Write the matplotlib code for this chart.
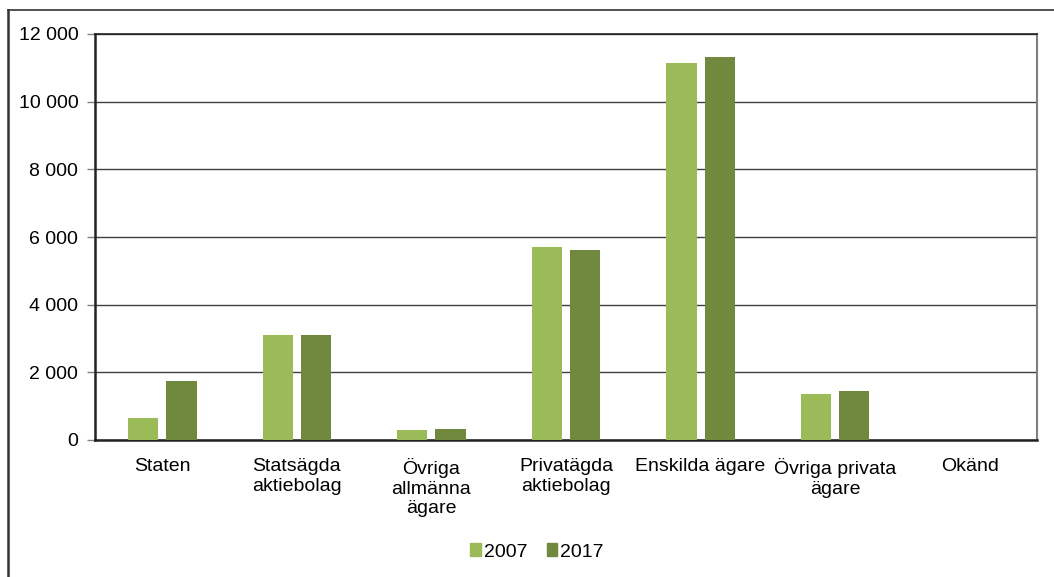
import matplotlib

matplotlib.use("Agg")
import matplotlib.pyplot as plt
import numpy as np
from matplotlib.lines import Line2D
from matplotlib.ticker import FuncFormatter

plt.rcParams["font.family"] = ["Liberation Sans", "DejaVu Sans"]

categories = [
    "Staten",
    "Statsägda\naktiebolag",
    "Övriga\nallmänna\nägare",
    "Privatägda\naktiebolag",
    "Enskilda ägare",
    "Övriga privata\nägare",
    "Okänd",
]
values_2007 = [650, 3110, 300, 5700, 11140, 1370, 0]
values_2017 = [1745, 3110, 325, 5610, 11320, 1445, 0]
series_labels = ["2007", "2017"]
colors = ["#9BBB59", "#71893F"]

fig = plt.figure(figsize=(10.54, 5.77), dpi=100)
ax = fig.add_axes([95 / 1054, 1 - 440 / 577, (1037 - 95) / 1054, (440 - 34) / 577])

x = np.arange(len(categories))
width = 0.225
offset = 0.142
ax.bar(x - offset, values_2007, width, color=colors[0], label=series_labels[0], zorder=3)
ax.bar(x + offset, values_2017, width, color=colors[1], label=series_labels[1], zorder=3)

ax.set_xlim(-0.5, len(categories) - 0.5)
ax.set_ylim(0, 12000)
ax.set_yticks(np.arange(0, 12001, 2000))
ax.yaxis.set_major_formatter(FuncFormatter(lambda v, _: f"{int(v):,}".replace(",", " ")))
ax.grid(axis="y", color="#404040", linewidth=1.0, zorder=0)
ax.set_axisbelow(True)

ax.set_xticks(x)
ax.set_xticklabels(categories, fontsize=14, va="top", linespacing=1.2)
ax.tick_params(axis="x", length=0, pad=13)
ax.tick_params(axis="y", labelsize=14, length=6, width=1, color="#808080", direction="out", pad=6)

for side in ["left", "bottom"]:
    ax.spines[side].set_color("#222222")
    ax.spines[side].set_linewidth(1.8)
ax.spines["top"].set_color("#222222")
ax.spines["top"].set_linewidth(1.2)
ax.spines["right"].set_color("#808080")
ax.spines["right"].set_linewidth(1.5)

handles = [
    plt.Rectangle((0, 0), 1, 1, color=colors[0]),
    plt.Rectangle((0, 0), 1, 1, color=colors[1]),
]
fig.legend(
    handles,
    series_labels,
    loc="center",
    bbox_to_anchor=(537 / 1054, 1 - 552 / 577),
    ncol=2,
    frameon=False,
    fontsize=14,
    handlelength=0.55,
    handleheight=0.6,
    handletextpad=0.15,
    columnspacing=1.0,
)

# outer chart frame
fig.add_artist(Line2D([8 / 1054, 1.0], [1 - 10 / 577, 1 - 10 / 577], color="#333333", linewidth=1.2))
fig.add_artist(Line2D([8 / 1054, 8 / 1054], [0.0, 1 - 10 / 577], color="#333333", linewidth=1.8))

fig.savefig("out.png", dpi=100)
